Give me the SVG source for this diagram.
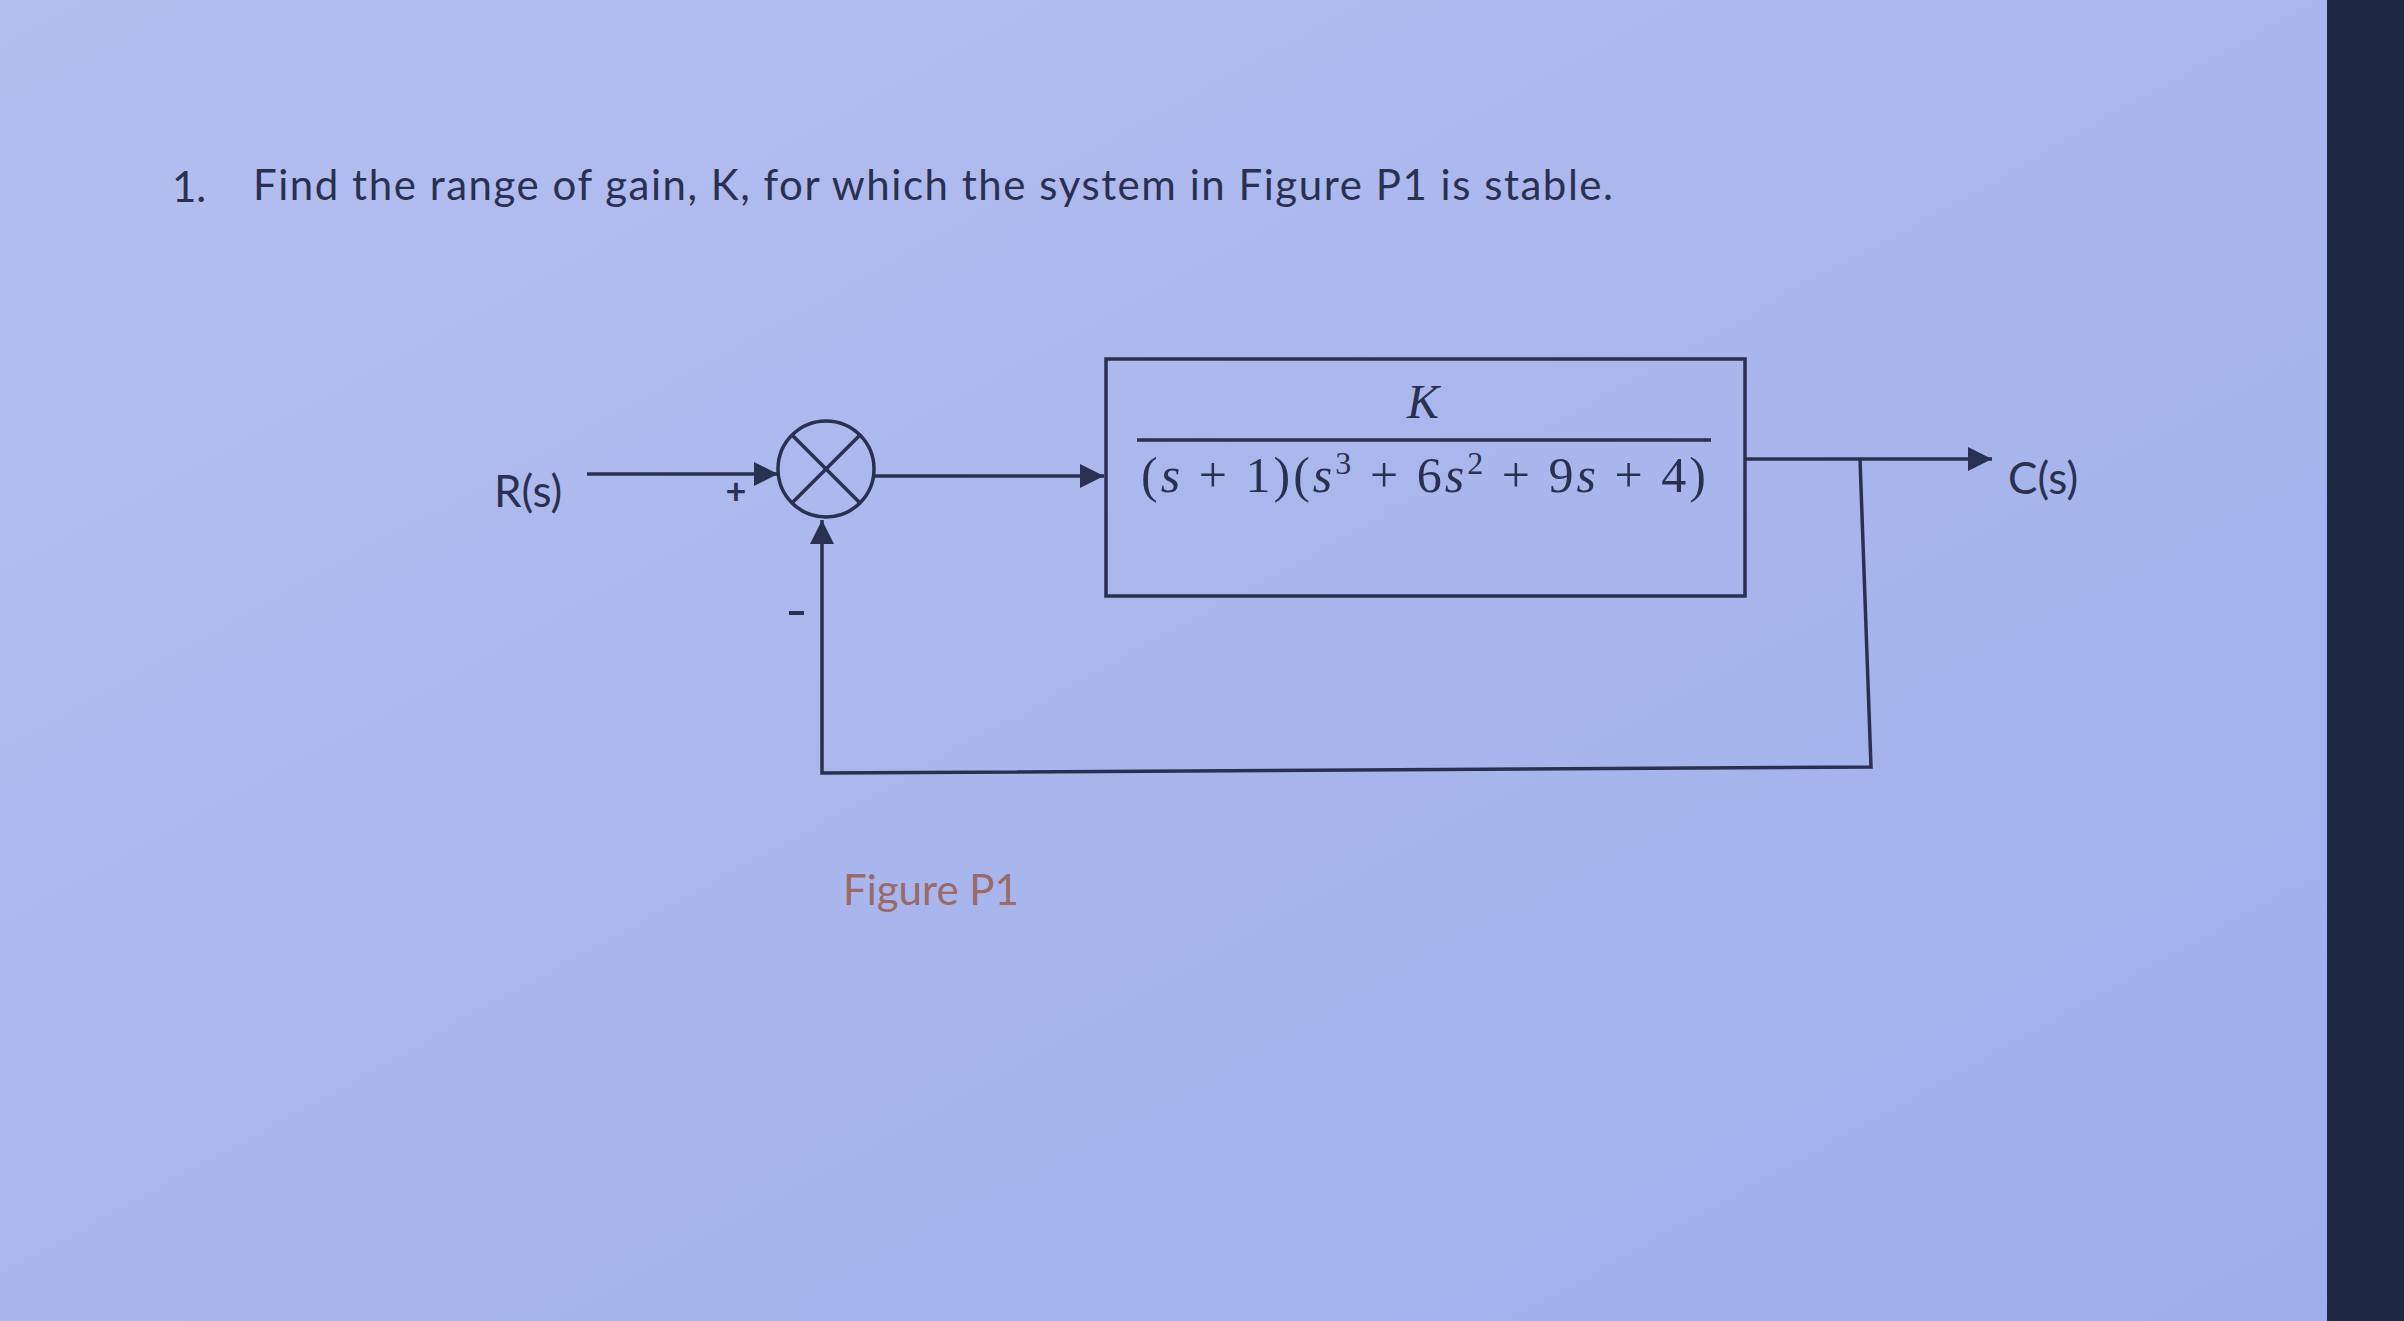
<svg xmlns="http://www.w3.org/2000/svg" width="2404" height="1321" viewBox="0 0 2404 1321">
<defs>
<linearGradient id="bg" x1="0" y1="0" x2="1" y2="1">
<stop offset="0" stop-color="#b4bff0"/><stop offset="1" stop-color="#9eaeea"/>
</linearGradient>
<marker id="ah" viewBox="0 0 10 10" refX="10" refY="5" markerWidth="24" markerHeight="24" markerUnits="userSpaceOnUse" orient="auto"><path d="M0,0 L10,5 L0,10 z" fill="#2a3150"/></marker>
<style>
.t{font-family:Lato,"Open Sans",sans-serif;fill:#2a3150}
.m{font-family:"Liberation Serif",serif;fill:#2a3150}
.ln{stroke:#2a3150;stroke-width:3.5;fill:none}
</style>
</defs>
<rect width="2404" height="1321" fill="url(#bg)"/>
<rect x="2327" y="0" width="77" height="1321" fill="#1e2a44"/>
<text class="t" x="172" y="202" font-size="42">1.</text>
<text class="t" x="253" y="200" font-size="42" textLength="1360">Find the range of gain, K, for which the system in Figure P1 is stable.</text>
<g id="connectors">
<line class="ln" x1="587" y1="474" x2="778" y2="474" marker-end="url(#ah)"/>
<line class="ln" x1="874" y1="476" x2="1104" y2="476" marker-end="url(#ah)"/>
<line class="ln" x1="1745" y1="459" x2="1992" y2="459" marker-end="url(#ah)"/>
<polyline class="ln" points="1860,459 1871,767 822,773 822,520" marker-end="url(#ah)"/>
</g>
<g id="sum">
<circle class="ln" cx="826" cy="469" r="48" stroke-width="4.5"/>
<line class="ln" x1="792" y1="435" x2="860" y2="503" stroke-width="4"/>
<line class="ln" x1="860" y1="435" x2="792" y2="503" stroke-width="4"/>
<text class="t" x="736" y="504" font-size="36" text-anchor="middle" font-weight="bold">+</text>
<rect x="789" y="611" width="15" height="4" fill="#2a3150"/>
</g>
<g id="plant">
<rect class="ln" x="1106" y="359" width="639" height="237"/>
<text class="m" x="1423" y="418" font-size="48" font-style="italic" text-anchor="middle">K</text>
<line class="ln" x1="1137" y1="440" x2="1711" y2="440" stroke-width="4.5"/>
<text class="m" x="1141" y="492" font-size="50" textLength="565">(<tspan font-style="italic">s</tspan> + 1)(<tspan font-style="italic">s</tspan><tspan font-size="32" dy="-18">3</tspan><tspan dy="18"> + 6</tspan><tspan font-style="italic">s</tspan><tspan font-size="32" dy="-18">2</tspan><tspan dy="18"> + 9</tspan><tspan font-style="italic">s</tspan> + 4)</text>
</g>
<g id="labels">
<text class="t" x="494" y="507" font-size="44">R(s)</text>
<text class="t" x="2008" y="494" font-size="44">C(s)</text>
<text x="843" y="905" font-size="42" font-family="Lato,sans-serif" fill="#9a6a66">Figure P1</text>
</g>
</svg>
